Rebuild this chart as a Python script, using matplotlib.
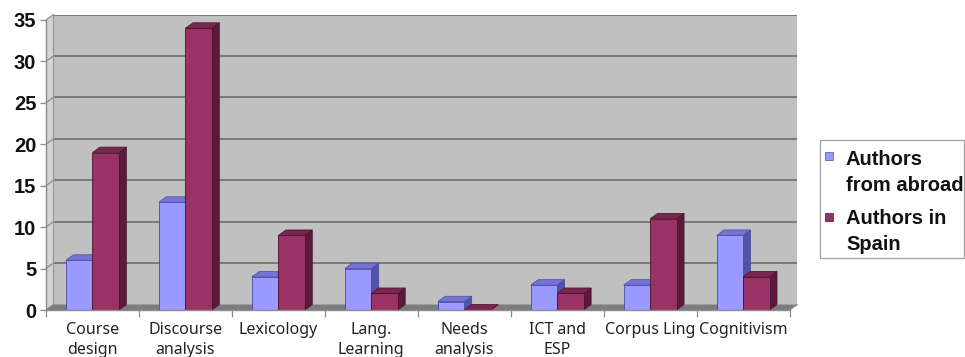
import matplotlib
matplotlib.use("Agg")
import matplotlib.pyplot as plt
from matplotlib.patches import Polygon, Rectangle

plt.rcParams['font.family'] = ['Noto Sans', 'DejaVu Sans']
BOLD_FAMILY = ['Liberation Sans', 'DejaVu Sans']

# ---- data ----
categories = ["Course\ndesign", "Discourse\nanalysis", "Lexicology", "Lang.\nLearning",
              "Needs\nanalysis", "ICT and\nESP", "Corpus Ling", "Cognitivism"]
abroad = [6, 13, 4, 5, 1, 3, 3, 9]
spain = [19, 34, 9, 2, 0, 2, 11, 4]
series_names = ["Authors\nfrom abroad", "Authors in\nSpain"]
yticks = [0, 5, 10, 15, 20, 25, 30, 35]

# ---- styling ----
W, H = 965, 357
DX, DY = 0.08, 0.66          # depth offset of the pseudo-3D view (data units)
BAR_W = 0.285
wall_col = "#c0c0c0"
side_wall_col = "#d4d4d4"
floor_col = "#7c7c7c"
grid_col = "#7a7a7a"
axis_col = "#8c8c8c"
colors = {
    "abroad": dict(front="#9999ff", top="#7373d6", side="#5252a8", edge="#4a4aa0"),
    "spain": dict(front="#993366", top="#7a2650", side="#5a1a3a", edge="#4a1030"),
}

fig = plt.figure(figsize=(W / 100, H / 100), dpi=100)
fig.patch.set_facecolor("white")
ax = fig.add_axes([46 / W, (H - 310) / H, (797 - 46) / W, (310 - 14.5) / H])
n = len(categories)
x0, x1 = -0.5, n - 0.5
ymax = yticks[-1]
ax.set_xlim(x0, x1 + DX)
ax.set_ylim(0, ymax + DY)
ax.set_facecolor("none")
for s in ax.spines.values():
    s.set_visible(False)

# back wall, side wall and floor
ax.add_patch(Polygon([(x0 + DX, DY), (x1 + DX, DY), (x1 + DX, ymax + DY), (x0 + DX, ymax + DY)],
                     closed=True, facecolor=wall_col, edgecolor="#a8a8a8", lw=0.8, zorder=0))
ax.add_patch(Polygon([(x0, 0), (x0 + DX, DY), (x0 + DX, ymax + DY), (x0, ymax)],
                     closed=True, facecolor=side_wall_col, edgecolor="none", zorder=0.5, clip_on=False))
ax.add_patch(Polygon([(x0, 0), (x1, 0), (x1 + DX, DY), (x0 + DX, DY)],
                     closed=True, facecolor=floor_col, edgecolor="none", zorder=1, clip_on=False))

# gridlines on the back wall, with their links across the side wall
for k in yticks[1:]:
    ax.plot([x0 + DX, x1 + DX], [k + DY, k + DY], color=grid_col, lw=1.4, zorder=0.8,
            solid_capstyle="butt")
for k in yticks:
    ax.plot([x0, x0 + DX], [k, k + DY], color=axis_col, lw=0.9, zorder=0.9, clip_on=False)
ax.plot([x0 + DX, x0 + DX], [DY, ymax + DY], color="#9a9a9a", lw=0.9, zorder=0.9)

# front axis lines
ax.plot([x0, x0], [0, ymax], color=axis_col, lw=1.0, zorder=5, clip_on=False)
ax.plot([x0, x1], [0, 0], color=axis_col, lw=1.0, zorder=5, clip_on=False)
ax.plot([x1, x1 + DX], [0, DY], color=axis_col, lw=1.0, zorder=5, clip_on=False)


def draw_3d_bars(xpos, values, c, z):
    bars = ax.bar(xpos, values, width=BAR_W, color=c["front"], edgecolor=c["edge"],
                  linewidth=0.6, zorder=z + 0.2)
    for b in bars:
        bx, bw, bh = b.get_x(), b.get_width(), b.get_height()
        top = [(bx, bh), (bx + bw, bh), (bx + bw + DX, bh + DY), (bx + DX, bh + DY)]
        side = [(bx + bw, 0), (bx + bw + DX, DY), (bx + bw + DX, bh + DY), (bx + bw, bh)]
        ax.add_patch(Polygon(side, closed=True, facecolor=c["side"], edgecolor=c["edge"],
                             lw=0.5, zorder=z))
        ax.add_patch(Polygon(top, closed=True, facecolor=c["top"], edgecolor=c["edge"],
                             lw=0.5, zorder=z + 0.1))


xs = list(range(n))
draw_3d_bars([x - BAR_W / 2 for x in xs], abroad, colors["abroad"], 3)
draw_3d_bars([x + BAR_W / 2 for x in xs], spain, colors["spain"], 4)

# ticks and labels
ax.set_yticks(yticks)
ax.set_yticklabels([str(v) for v in yticks], fontsize=14.5, fontweight="bold",
                   family=BOLD_FAMILY, color="#111111")
ax.tick_params(axis="y", length=4, width=0.9, color=axis_col, pad=3)
ax.set_xticks(xs)
ax.set_xticklabels(categories, fontsize=11.5, color="#222222", linespacing=1.25)
ax.tick_params(axis="x", which="major", length=0, pad=9)
ax.set_xticks([x0 + i for i in range(n + 1)], minor=True)
ax.tick_params(axis="x", which="minor", length=5, width=0.9, color=axis_col, direction="out")

# legend box drawn in figure pixels
def fx(px):
    return px / W


def fy(py):
    return (H - py) / H


fig.patches.append(Rectangle((fx(820), fy(258)), fx(964) - fx(820), fy(140) - fy(258),
                             transform=fig.transFigure, facecolor="white",
                             edgecolor="#a0a0a0", lw=0.9, zorder=10))
legend_cols = [colors["abroad"], colors["spain"]]
square_tops = [152, 213]
text_tops = [150, 209]
for name, c, sq, tt in zip(series_names, legend_cols, square_tops, text_tops):
    fig.patches.append(Rectangle((fx(825), fy(sq + 8)), fx(833) - fx(825), fy(sq) - fy(sq + 8),
                                 transform=fig.transFigure, facecolor=c["front"],
                                 edgecolor=c["edge"], lw=0.5, zorder=11))
    fig.text(fx(846), fy(tt), name, fontsize=14.5, fontweight="bold", family=BOLD_FAMILY,
             ha="left", va="top", linespacing=1.45, color="#111111", zorder=12)

fig.savefig("out.png", dpi=100)
